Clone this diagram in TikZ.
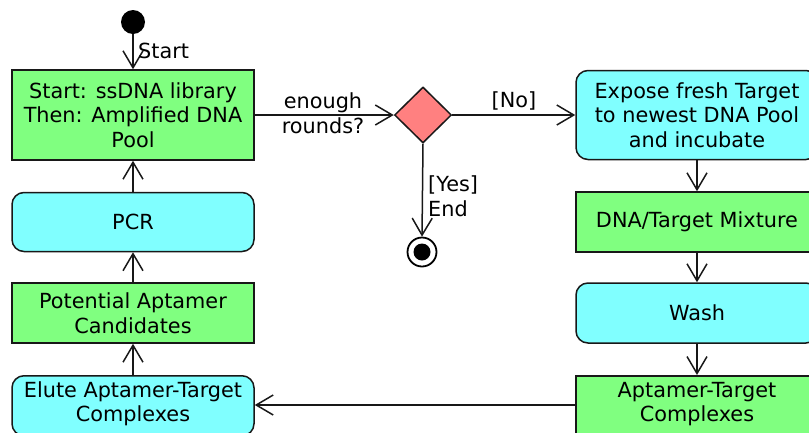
\documentclass[tikz,border=0pt]{standalone}
\usepackage{fontspec}
\setmainfont{DejaVu Sans}
\usetikzlibrary{arrows.meta,shapes.geometric}

\definecolor{objgreen}{HTML}{80FF80}
\definecolor{actcyan}{HTML}{80FFFF}
\definecolor{decred}{HTML}{FF8080}
\definecolor{edge}{HTML}{181818}

\begin{document}
\begin{tikzpicture}[x=1pt,y=-1pt,
  every node/.style={font=\fontsize{20.8}{24.5}\selectfont, text=black},
  box/.style={draw=edge, line width=1.5pt, minimum width=242pt, align=center, inner sep=0pt},
  objbox/.style={box, fill=objgreen},
  actbox/.style={box, fill=actcyan, rounded corners=12pt},
  flow/.style={draw=edge, line width=1.5pt, -{Straight Barb[length=17pt,width=20pt,line width=1.5pt]}},
  lbl/.style={inner sep=0pt, align=center}
]
\useasboundingbox (0,0) rectangle (809,432);
\begin{scope}
\clip (0,0) rectangle (809,432);

% initial and final states
\node (init) [circle, fill=black, minimum size=24pt, inner sep=0pt] at (133,22) {};
\node (fin) [circle, draw=black, line width=1.8pt, fill=white, minimum size=29pt, inner sep=0pt] at (422,252) {};
\fill[black] (fin.center) circle (8.5pt);

% left column
\node (pool) [objbox, minimum height=90pt] at (133,115)
  {Start: ssDNA library\\Then: Amplified DNA\\Pool};
\node (pcr) [actbox, minimum height=59pt] at (133,222) {PCR};
\node (cand) [objbox, minimum height=60pt] at (133,313) {Potential Aptamer\\Candidates};
\node (elute) [actbox, minimum height=60pt, anchor=north] at (133,375) {};
\node (elutetxt) [lbl] at (133,404) {Elute Aptamer-Target\\Complexes};

% decision
\node (dec) [diamond, draw=edge, line width=1.5pt, fill=decred, minimum width=57pt, minimum height=56pt, inner sep=0pt] at (423,115) {};

% right column
\node (expose) [actbox, minimum height=89pt] at (697,115)
  {Expose fresh Target\\to newest DNA Pool\\and incubate};
\node (mix) [objbox, minimum height=60pt] at (697,222) {DNA/Target Mixture};
\node (wash) [actbox, minimum height=60pt] at (697,313) {Wash};
\node (cplx) [objbox, minimum height=60pt, anchor=north] at (697,375) {};
\node (cplxtxt) [lbl] at (697,404) {Aptamer-Target\\Complexes};

% connectors
\draw[flow] (init) -- (pool);
\node (startlbl) [lbl, anchor=west] at (138,51) {Start};
\draw[flow] (pool.east) -- (dec.west);
\node (roundslbl) [lbl] at (323,113) {enough\\rounds?};
\draw[flow] (dec.east) -- (expose.west);
\node (nolbl) [lbl] at (514,101) {[No]};
\draw[flow] (dec.south) -- (fin.north);
\node (yeslbl) [lbl, anchor=west, align=left] at (428,196) {[Yes]\\End};
\draw[flow] (expose) -- (mix);
\draw[flow] (mix) -- (wash);
\draw[flow] (wash) -- (cplx);
\draw[flow] (cplx.west |- 0,405) -- (elute.east |- 0,405);
\draw[flow] (elute) -- (cand);
\draw[flow] (cand) -- (pcr);
\draw[flow] (pcr) -- (pool);
\end{scope}
\end{tikzpicture}
\end{document}
